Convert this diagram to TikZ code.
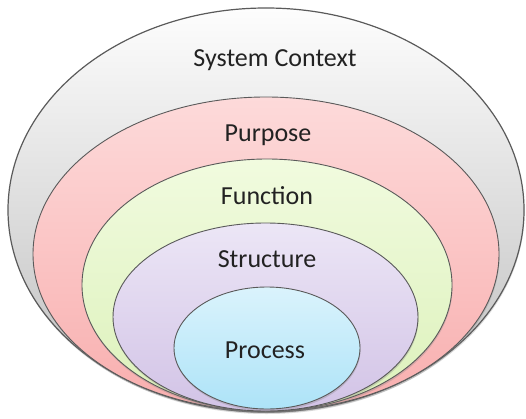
\documentclass[tikz,border=0pt]{standalone}
\usepackage{fontspec}
\setmainfont{Carlito}
\usetikzlibrary{shadows}
\definecolor{edge}{HTML}{5A5A5A}
\definecolor{ctxtop}{HTML}{FDFDFD}
\definecolor{ctxbot}{HTML}{BDBDBD}
\definecolor{purtop}{HTML}{FDDADA}
\definecolor{purbot}{HTML}{F8AEAE}
\definecolor{funtop}{HTML}{F1FBDF}
\definecolor{funbot}{HTML}{DCF1BA}
\definecolor{strtop}{HTML}{ECE6F6}
\definecolor{strbot}{HTML}{D2C3E6}
\definecolor{protop}{HTML}{DAF3FC}
\definecolor{probot}{HTML}{ADE3F8}
\definecolor{txt}{HTML}{222222}
\begin{document}
\begin{tikzpicture}[x=1pt,y=1pt,
  ring/.style={draw=edge, line width=0.9pt,
    drop shadow={shadow xshift=0.5pt, shadow yshift=-2pt, opacity=0.3}},
  lbl/.style={font=\fontsize{26}{30}\selectfont, text=txt, inner sep=0pt, anchor=base}]
\useasboundingbox (0,0) rectangle (526,418);
\path[ring, line width=1.2pt, top color=ctxtop, bottom color=ctxbot]
  (266,208) ellipse [x radius=258, y radius=202];
\path[ring, top color=purtop, bottom color=purbot]
  (266,164) ellipse [x radius=233, y radius=157];
\path[ring, top color=funtop, bottom color=funbot]
  (267,133) ellipse [x radius=185, y radius=126];
\path[ring, top color=strtop, bottom color=strbot]
  (265.5,101) ellipse [x radius=152.5, y radius=94];
\path[ring, top color=protop, bottom color=probot]
  (267,70) ellipse [x radius=93, y radius=61];
\node[lbl] (ctx) at (275,351) {System Context};
\node[lbl] (pur) at (268,276) {Purpose};
\node[lbl] (fun) at (267,214) {Function};
\node[lbl] (str) at (267,151) {Structure};
\node[lbl] (pro) at (265,60) {Process};
\end{tikzpicture}
\end{document}
